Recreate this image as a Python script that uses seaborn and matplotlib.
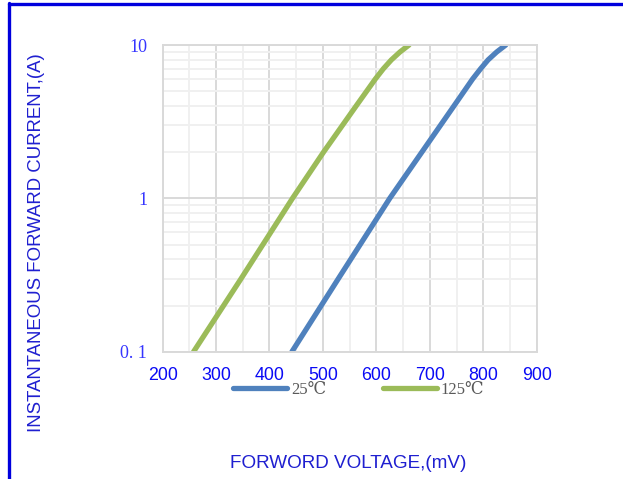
import matplotlib
matplotlib.use("Agg")
import matplotlib.pyplot as plt
from matplotlib.lines import Line2D
from matplotlib.ticker import LogLocator, NullFormatter, FixedLocator
import seaborn as sns
import pandas as pd

# ---- data ----
current_a = [0.1, 0.3, 1, 2, 4, 6, 7, 8, 9, 10]
volt_25c = [442, 529, 625, 685, 745, 780, 795, 809, 825, 842]
volt_125c = [258, 347, 443, 501, 562, 598, 613, 628, 644, 661]
series_labels = ["25\u2103", "125\u2103"]
x_ticks = [200, 300, 400, 500, 600, 700, 800, 900]
y_ticks = [0.1, 1, 10]
y_tick_labels = ["0. 1", "1", "10"]

df = pd.DataFrame({
    "mV": volt_25c + volt_125c,
    "A": current_a + current_a,
    "T": [series_labels[0]] * len(current_a) + [series_labels[1]] * len(current_a),
})

sns.set_style("white")
plt.rcParams["font.family"] = ["Liberation Sans", "DejaVu Sans"]

fig = plt.figure(figsize=(6.23, 4.79), dpi=100)
ax = fig.add_axes([0.261, 0.2658, 0.6005, 0.6402])

sns.lineplot(data=df, x="mV", y="A", hue="T", hue_order=series_labels,
             palette=["#4F81BD", "#9BBB59"], linewidth=3.8, ax=ax,
             estimator=None, sort=False, solid_capstyle="round",
             solid_joinstyle="round")

ax.set_yscale("log")
ax.set_xlim(200, 900)
ax.set_ylim(0.1, 10)
ax.set_xticks(x_ticks)
ax.xaxis.set_minor_locator(FixedLocator([250, 350, 450, 550, 650, 750, 850]))
ax.set_yticks(y_ticks)
ax.set_yticklabels(y_tick_labels)
ax.yaxis.set_minor_locator(LogLocator(base=10, subs=[2, 3, 4, 5, 6, 7, 8, 9]))
ax.yaxis.set_minor_formatter(NullFormatter())

ax.set_axisbelow(True)
ax.grid(which="minor", color="#f0f0f0", lw=1.4)
ax.grid(which="major", color="#d9d9d9", lw=1.4)
for s in ax.spines.values():
    s.set_color("#d9d9d9")
    s.set_linewidth(1.4)

ax.tick_params(which="both", length=0)
ax.tick_params(axis="x", pad=11, labelsize=12.8, labelcolor="#0a0af5")
ax.tick_params(axis="y", pad=11, labelcolor="#3535ff")
for t in ax.get_yticklabels():
    t.set_fontfamily(["Liberation Serif", "DejaVu Serif"])
    t.set_fontsize(13)

ax.set_xlabel("")
ax.set_ylabel("")
fig.text(0.559, 0.033, "FORWORD VOLTAGE,(mV)", ha="center", va="center",
         fontsize=13.6, color="#1f1fd0")
fig.text(0.059, 0.494, "INSTANTANEOUS FORWARD CURRENT,(A)", ha="center",
         va="center", rotation=90, fontsize=13.4, color="#1f1fd0")

handles, labels = ax.get_legend_handles_labels()
if ax.legend_:
    ax.legend_.remove()
leg = fig.legend(handles, labels, loc="center", bbox_to_anchor=(0.576, 0.186),
                 ncol=2, frameon=False, handlelength=3.25, handletextpad=0.22,
                 columnspacing=3.4,
                 prop={"family": ["Liberation Serif", "DejaVu Serif", "Noto Sans CJK SC"],
                       "size": 12})
for t in leg.get_texts():
    t.set_color("#595959")
for h in leg.legend_handles:
    h.set_linewidth(3.8)

# blue frame (top and left edges)
fig.add_artist(Line2D([8.5 / 623, 1.0], [1 - 4.3 / 479, 1 - 4.3 / 479],
                      transform=fig.transFigure, color="#0000dd", lw=2.4))
fig.add_artist(Line2D([8.5 / 623, 8.5 / 623], [0.0, 1 - 3 / 479],
                      transform=fig.transFigure, color="#0000dd", lw=2.4))

fig.savefig("out.png", dpi=100)
